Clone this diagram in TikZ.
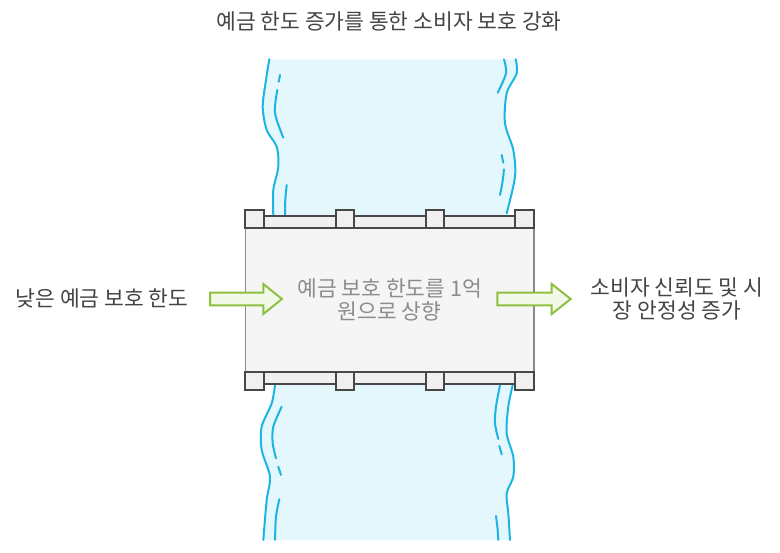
\documentclass[tikz,border=0pt]{standalone}
\usepackage{fontspec}
\setmainfont{Noto Sans CJK KR}
\definecolor{riverfill}{HTML}{E3F7FD}
\definecolor{riverline}{HTML}{1CB4E3}
\definecolor{railline}{HTML}{474747}
\definecolor{railfill}{HTML}{F0F0F0}
\definecolor{boxfill}{HTML}{F5F5F5}
\definecolor{boxline}{HTML}{8A8A8A}
\definecolor{arrline}{HTML}{8DC03F}
\definecolor{arrfill}{HTML}{F2F9E9}
\definecolor{txt}{HTML}{444444}
\definecolor{midtxt}{HTML}{8C8C8C}
\begin{document}
\begin{tikzpicture}[x=1pt,y=-1pt,
  bank/.style={draw=riverline,line width=2pt,line cap=round},
  rail/.style={draw=railline,fill=railfill,line width=2pt},
  blockarrow/.style={draw=arrline,fill=arrfill,line width=2pt,line join=miter},
  label/.style={text=txt,font=\fontsize{21.5}{23}\selectfont,align=center,inner sep=0pt},
  midbox/.style={fill=boxfill,draw=boxline,line width=1.5pt,minimum width=288.7pt,minimum height=143.4pt,inner sep=0pt,text=midtxt,font=\fontsize{21.5}{23}\selectfont,align=center}]
\useasboundingbox (0,0) rectangle (780,553);
% river water
\fill[riverfill] plot[smooth] coordinates {(269.3,59.3) (266,80) (262.7,106.7) (266.7,130) (276.7,146.7) (278.3,166.7) (273.3,190) (273.3,215)}
  -- plot[smooth] coordinates {(275,385) (271.7,403.3) (261.7,426.7) (261.7,450) (270,476.7) (266.7,500) (263.3,540)}
  -- plot[smooth] coordinates {(510,540) (508.3,513.3) (506.7,493.3) (513.3,476.7) (513.3,456.7) (506.7,433.3) (508.3,406.7) (512.7,385)}
  -- plot[smooth] coordinates {(506.7,213.3) (515,176.7) (513.3,150) (505,123.3) (506.7,93.3) (516.7,73.3) (515.7,59.3)}
  -- cycle;
% banks, top half
\draw[bank] plot[smooth] coordinates {(269.3,59.3) (266,80) (262.7,106.7) (266.7,130) (276.7,146.7) (278.3,166.7) (273.3,190) (273.3,215)};
\draw[bank] (280,75) -- (278.7,81.7);
\draw[bank] plot[smooth] coordinates {(277.3,90) (275,113) (283.3,137.7)};
\draw[bank] plot[smooth] coordinates {(286.7,185) (285.3,200) (285,215)};
\draw[bank] plot[smooth] coordinates {(515.7,59.3) (516.7,73.3) (506.7,93.3) (505,123.3) (513.3,150) (515,176.7) (506.7,213.3)};
\draw[bank] plot[smooth] coordinates {(504,59.3) (506,73.3) (497.7,92.7)};
\draw[bank] (501.7,155) -- (503.3,162.7);
\draw[bank] plot[smooth] coordinates {(504,169.3) (502.5,182) (500,195)};
% banks, bottom half
\draw[bank] plot[smooth] coordinates {(275,385) (271.7,403.3) (261.7,426.7) (261.7,450) (270,476.7) (266.7,500) (263.3,540)};
\draw[bank] plot[smooth] coordinates {(281.7,406.7) (273.3,426.7) (272.7,443.3) (276,458.3)};
\draw[bank] (278.3,466.7) -- (281,475);
\draw[bank] plot[smooth] coordinates {(279.3,499.3) (276,516.7) (275,540)};
\draw[bank] plot[smooth] coordinates {(512.7,385) (508.3,406.7) (506.7,433.3) (513.3,456.7) (513.3,476.7) (506.7,493.3) (508.3,513.3) (510,540)};
\draw[bank] plot[smooth] coordinates {(500,385) (496,406.7) (495,423.3) (498.3,439)};
\draw[bank] (499.3,446) -- (501.7,454.3);
\draw[bank] plot[smooth] coordinates {(496,516) (497.5,528) (498.3,540)};
% bridge
\node[midbox] (mid) at (389.65,300) {예금 보호 한도를 1억\\원으로 상향};
\draw[rail] (245.3,215.7) rectangle (534,228.3);
\draw[rail] (245.3,371.7) rectangle (534,384);
\foreach \px in {245.3,335.7,425.7,515.3} {
  \draw[rail] (\px,209.7) rectangle ++(18.7,18.6);
  \draw[rail] (\px,371.7) rectangle ++(18.7,18.3);
}
% texts
\node[label] (title) at (389,21) {예금 한도 증가를 통한 소비자 보호 강화};
\node[label] (low) at (102,298) {낮은 예금 보호 한도};
\node[label] (result) at (677,299) {소비자 신뢰도 및 시\\장 안정성 증가};
% block arrows
\draw[blockarrow] (210,292.7) -- (263.3,292.7) -- (263.3,284) -- (282,299) -- (263.3,314) -- (263.3,305.3) -- (210,305.3) -- cycle;
\draw[blockarrow] (497.3,292.7) -- (551.7,292.7) -- (551.7,284) -- (570.7,299) -- (551.7,314) -- (551.7,305.3) -- (497.3,305.3) -- cycle;
\end{tikzpicture}
\end{document}
